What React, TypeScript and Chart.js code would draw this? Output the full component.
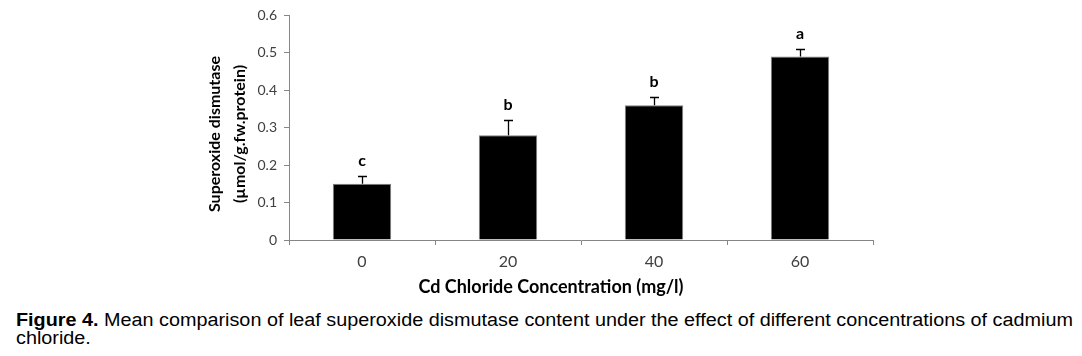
import React, { useEffect, useRef } from "react";
import { Chart, registerables } from "chart.js";

Chart.register(...registerables);

const categories = ["0", "20", "40", "60"];
const meanValues = [0.15, 0.28, 0.36, 0.49];
const errorValues = [0.022, 0.04, 0.022, 0.021];
const groupLetters = ["c", "b", "b", "a"];
const yTitleLines = ["Superoxide dismutase", "(µmol/g.fw.protein)"];
const xTitle = "Cd Chloride Concentration (mg/l)";

const FONT = "Lato, 'Open Sans', sans-serif";

const annotatePlugin = {
  id: "annotate",
  afterDatasetsDraw(chart: any) {
    const ctx = chart.ctx;
    const x = chart.scales.x;
    const y = chart.scales.y;
    ctx.save();
    meanValues.forEach((v, i) => {
      const cx = x.getPixelForValue(i);
      const yTop = y.getPixelForValue(v);
      const yErr = y.getPixelForValue(v + errorValues[i]);
      ctx.strokeStyle = "#000";
      ctx.lineWidth = 1.3;
      ctx.beginPath();
      ctx.moveTo(Math.round(cx) + 0.5, yTop);
      ctx.lineTo(Math.round(cx) + 0.5, Math.round(yErr) + 0.5);
      ctx.moveTo(Math.round(cx) - 4, Math.round(yErr) + 0.5);
      ctx.lineTo(Math.round(cx) + 5, Math.round(yErr) + 0.5);
      ctx.stroke();
      ctx.fillStyle = "#000";
      ctx.font = `bold 16px ${FONT}`;
      ctx.textAlign = "center";
      ctx.textBaseline = "alphabetic";
      ctx.fillText(groupLetters[i], cx, yErr - 10);
    });
    // y title
    ctx.save();
    ctx.translate(215, 134);
    ctx.rotate(-Math.PI / 2);
    ctx.font = `bold 16px ${FONT}`;
    ctx.fillStyle = "#000";
    ctx.textAlign = "center";
    ctx.textBaseline = "middle";
    ctx.fillText(yTitleLines[0], 0, 0);
    ctx.fillText(yTitleLines[1], 0, 25);
    ctx.restore();
    // x title
    ctx.font = `bold 18px ${FONT}`;
    ctx.fillStyle = "#000";
    ctx.textAlign = "center";
    ctx.textBaseline = "middle";
    ctx.fillText(xTitle, 551, 287);
    ctx.restore();
  },
};

function BarChart() {
  const ref = useRef<HTMLCanvasElement>(null);
  useEffect(() => {
    if (!ref.current) return;
    const chart = new Chart(ref.current, {
      type: "bar",
      data: {
        labels: categories,
        datasets: [
          {
            data: meanValues,
            backgroundColor: "#000000",
            borderColor: "#7f7f7f",
            borderWidth: 1,
            categoryPercentage: 1,
            barPercentage: 0.4,
          },
        ],
      },
      options: {
        responsive: false,
        animation: false,
        layout: { padding: { left: 0, right: 209, top: 14, bottom: 0 } },
        plugins: {
          legend: { display: false },
          tooltip: { enabled: false },
        },
        scales: {
          x: {
            afterFit(scale: any) {
              scale.height = 60;
            },
            grid: {
              display: true,
              drawOnChartArea: false,
              drawTicks: true,
              tickLength: 5,
              color: "#868686",
              offset: true,
            },
            border: { display: true, color: "#868686", width: 1 },
            ticks: {
              font: { family: FONT, size: 16 },
              color: "#404040",
              padding: 7,
            },
          },
          y: {
            min: 0,
            max: 0.6,
            afterFit(scale: any) {
              scale.width = 289;
            },
            grid: {
              display: true,
              drawOnChartArea: false,
              drawTicks: true,
              tickLength: 5,
              color: "#868686",
            },
            border: { display: true, color: "#868686", width: 1 },
            ticks: {
              stepSize: 0.1,
              font: { family: FONT, size: 14 },
              color: "#404040",
              padding: 7,
              callback: (v: any) => (Number(v) === 0 ? "0" : Number(v).toFixed(1)),
            },
          },
        },
      },
      plugins: [annotatePlugin],
    });
    return () => chart.destroy();
  }, []);
  return <canvas ref={ref} width={1082} height={300} style={{ display: "block" }} />;
}

export default function App() {
  return (
    <div
      style={{
        position: "absolute",
        left: 0,
        top: 0,
        width: 1082,
        height: 356,
        background: "#fff",
        overflow: "hidden",
      }}
    >
      <BarChart />
      <div
        style={{
          position: "absolute",
          left: 16,
          top: 311,
          fontFamily: "'Liberation Sans', Arial, sans-serif",
          fontSize: 18,
          lineHeight: "18px",
          color: "#000",
          whiteSpace: "nowrap",
          transform: "scaleX(1.1)",
          transformOrigin: "left top",
        }}
      >
        <b>Figure 4.</b> Mean comparison of leaf superoxide dismutase content under the effect of different concentrations of cadmium
        <br />
        chloride.
      </div>
    </div>
  );
}
